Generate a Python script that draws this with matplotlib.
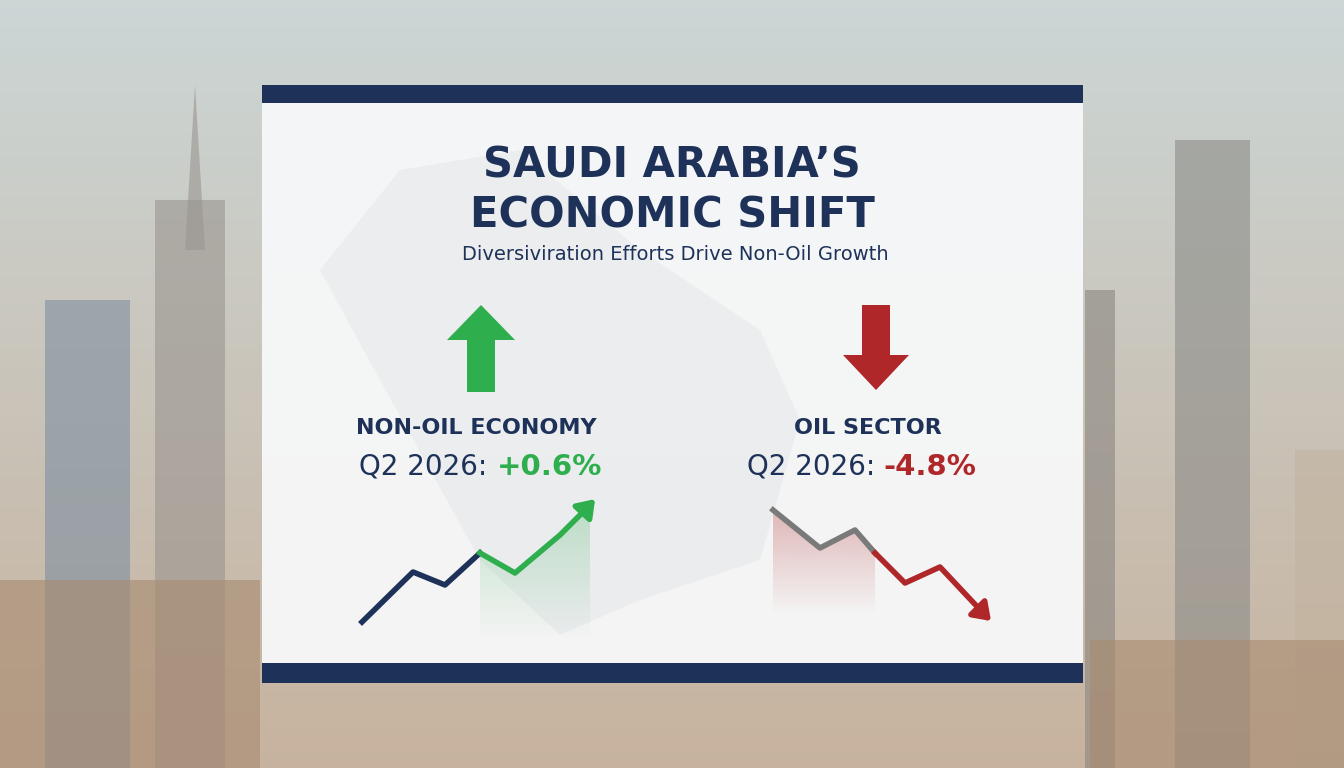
import matplotlib
matplotlib.use("Agg")
import matplotlib.pyplot as plt
import numpy as np
from matplotlib.patches import Rectangle, Polygon
from matplotlib.colors import to_rgb

title_lines = ["SAUDI ARABIA’S", "ECONOMIC SHIFT"]
subtitle = "Diversiviration Efforts Drive Non-Oil Growth"
labels = ["NON-OIL ECONOMY", "OIL SECTOR"]
quarter = "Q2 2026:"
values = ["+0.6%", "-4.8%"]
nonoil_x = [362, 413, 445, 480, 515, 560, 590]
nonoil_y = [622, 572, 585, 553, 573, 535, 505]
oil_x = [773, 820, 855, 875, 905, 940, 985]
oil_y = [510, 548, 530, 553, 583, 567, 615]

NAVY = "#1e3259"; GREEN = "#2fae4e"; RED = "#b0272a"; GRAY = "#7a7a7a"

fig = plt.figure(figsize=(13.44, 7.68), dpi=100)
ax = fig.add_axes([0, 0, 1, 1])
ax.set_xlim(0, 1344); ax.set_ylim(768, 0); ax.axis("off")

h = np.linspace(0, 1, 200)[:, None]
top = np.array([0.80, 0.84, 0.84]); bot = np.array([0.78, 0.70, 0.62])
img = top * (1 - h[..., None]) + bot * h[..., None]
img = np.repeat(img, 2, axis=1)
ax.imshow(img, extent=[0, 1344, 768, 0], aspect="auto", zorder=0)
for (x0, x1, ytop, c) in [(45, 130, 300, "#7e8fa0"), (155, 225, 200, "#9a9590"), (1175, 1250, 140, "#8c8c88"),
                          (1085, 1115, 290, "#8a8680"), (1295, 1344, 450, "#c2b3a0"), (0, 260, 580, "#a88a70"),
                          (1090, 1344, 640, "#a88a70")]:
    ax.add_patch(Rectangle((x0, ytop), x1 - x0, 768 - ytop, color=c, alpha=0.6, zorder=1, lw=0))
ax.add_patch(Polygon([[185, 250], [195, 85], [205, 250]], color="#9a9590", alpha=0.6, zorder=1, lw=0))

ax.add_patch(Rectangle((262, 85), 821, 598, color="#f7f8f9", alpha=0.95, zorder=2, lw=0))
ax.add_patch(Rectangle((262, 85), 821, 18, color=NAVY, zorder=3, lw=0))
ax.add_patch(Rectangle((262, 663), 821, 20, color=NAVY, zorder=3, lw=0))
ax.add_patch(Polygon([[320, 270], [400, 170], [520, 150], [640, 250], [760, 330], [800, 420],
                      [760, 560], [640, 600], [560, 635], [480, 560], [380, 380]],
                     color="#e6e8ea", alpha=0.6, zorder=2.5, lw=0))

ax.text(672, 165, title_lines[0], ha="center", va="center", fontsize=30, fontweight="bold", color=NAVY, zorder=5)
ax.text(672, 215, title_lines[1], ha="center", va="center", fontsize=30, fontweight="bold", color=NAVY, zorder=5)
ax.text(675, 255, subtitle, ha="center", va="center", fontsize=14, color=NAVY, zorder=5)

ax.add_patch(Polygon([[447, 340], [481, 305], [515, 340], [495, 340], [495, 392], [467, 392], [467, 340]],
                     color=GREEN, zorder=5, lw=0))
ax.add_patch(Polygon([[843, 355], [876, 390], [909, 355], [890, 355], [890, 305], [862, 305], [862, 355]],
                     color=RED, zorder=5, lw=0))

ax.text(476, 428, labels[0], ha="center", va="center", fontsize=16, fontweight="bold", color=NAVY, zorder=5)
ax.text(868, 428, labels[1], ha="center", va="center", fontsize=16, fontweight="bold", color=NAVY, zorder=5)
ax.text(487, 467, quarter, ha="right", va="center", fontsize=20, color=NAVY, zorder=5)
ax.text(497, 467, values[0], ha="left", va="center", fontsize=21, fontweight="bold", color=GREEN, zorder=5)
ax.text(875, 467, quarter, ha="right", va="center", fontsize=20, color=NAVY, zorder=5)
ax.text(883, 467, values[1], ha="left", va="center", fontsize=21, fontweight="bold", color=RED, zorder=5)

def grad_fill(xs, ys, ybase, color, amax):
    poly = Polygon(list(zip(xs, ys)) + [(xs[-1], ybase), (xs[0], ybase)], closed=True,
                   facecolor="none", edgecolor="none", zorder=4)
    ax.add_patch(poly)
    y0 = min(ys)
    g = np.zeros((100, 2, 4)); g[..., :3] = to_rgb(color)
    g[..., 3] = np.linspace(amax, 0, 100)[:, None]
    im = ax.imshow(g, extent=[xs[0], xs[-1], ybase, y0], aspect="auto", zorder=4)
    im.set_clip_path(poly)

grad_fill(nonoil_x[3:], nonoil_y[3:], 640, GREEN, 0.25)
ax.plot(nonoil_x[:4], nonoil_y[:4], color=NAVY, lw=4, zorder=5)
ax.plot(nonoil_x[3:], nonoil_y[3:], color=GREEN, lw=4, zorder=5)
ax.annotate("", xy=(597, 497), xytext=(nonoil_x[-1] - 5, nonoil_y[-1] + 5),
            arrowprops=dict(arrowstyle="-|>,head_width=0.7,head_length=1.0", color=GREEN, lw=4), zorder=6)
grad_fill(oil_x[:4], oil_y[:4], 615, RED, 0.3)
ax.plot(oil_x[:4], oil_y[:4], color=GRAY, lw=4, zorder=5)
ax.plot(oil_x[3:], oil_y[3:], color=RED, lw=4, zorder=5)
ax.annotate("", xy=(993, 623), xytext=(oil_x[-1] - 3, oil_y[-1] - 3),
            arrowprops=dict(arrowstyle="-|>,head_width=0.7,head_length=1.0", color=RED, lw=4), zorder=6)

fig.savefig("out.png", dpi=100)
